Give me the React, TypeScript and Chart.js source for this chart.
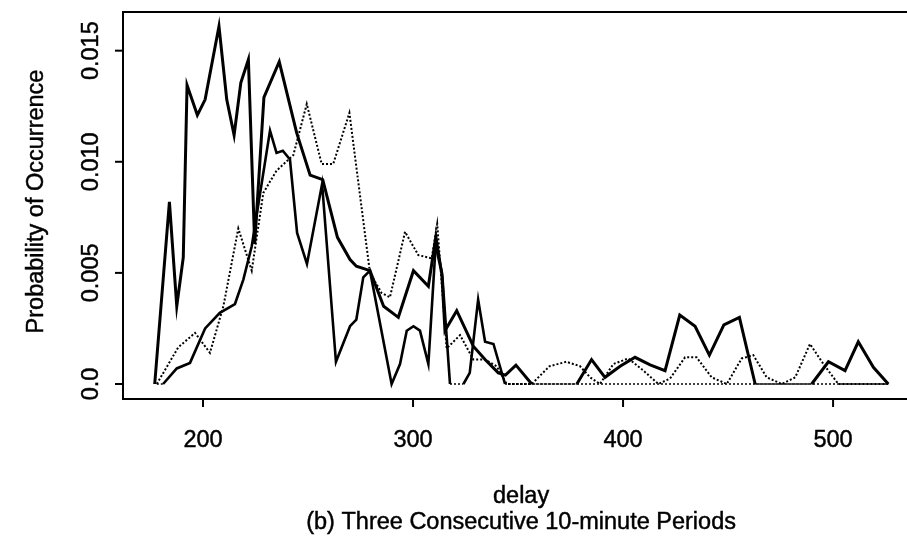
import React, { useEffect, useRef } from "react";
import { Chart, registerables } from "chart.js";

Chart.register(...registerables);

// ---- data (delay, probability of occurrence) ----
const PERIOD1_DELAY = [177, 184, 187.5, 190.6, 192.4, 197.3, 201, 207.6, 211.3, 214.8, 218, 221.6, 224.6, 229, 236.3, 244.6, 251, 257, 264, 270, 273, 279.5, 286, 293, 300.2, 307.3, 310.5, 313.7, 315.2, 320.8, 328.7, 334.3, 340.6, 344, 349, 356.5, 378, 385, 391.4, 398.6, 405.7, 412.9, 420, 427, 434.3, 441.1, 448, 455.4, 462.9, 489.8, 497.8, 505.7, 512, 519.2, 526.3];
const PERIOD1_PROB = [0, 0.0082, 0.0035, 0.0057, 0.01345, 0.0121, 0.0128, 0.0161, 0.0128, 0.0112, 0.01355, 0.0146, 0.0063, 0.0129, 0.0145, 0.0113, 0.0094, 0.0092, 0.0066, 0.0056, 0.0053, 0.0051, 0.0035, 0.003, 0.0051, 0.0044, 0.0064, 0.005, 0.0024, 0.0033, 0.0017, 0.0011, 0.0005, 0.0004, 0.00085, 0, 0, 0.0011, 0.0003, 0.0008, 0.0012, 0.00086, 0.0006, 0.0031, 0.0026, 0.0013, 0.00266, 0.003, 0, 0, 0.001, 0.0006, 0.0019, 0.00075, 0];

const PERIOD2_DELAY = [178, 181, 187.5, 193.8, 201, 208, 215.2, 219.2, 223.2, 231.9, 235, 238, 241.4, 244.8, 249.5, 256.7, 263.3, 270, 273, 276.3, 279.5, 289.8, 293.8, 297, 300.2, 303.3, 307.3, 311, 314, 317.6, 324, 327, 331, 334.3, 338.3, 343.8, 526.3];
const PERIOD2_PROB = [0, 0, 0.0007, 0.00095, 0.0025, 0.0032, 0.0036, 0.0047, 0.0062, 0.0114, 0.0104, 0.0105, 0.0101, 0.0068, 0.0054, 0.009, 0.001, 0.0026, 0.0029, 0.0048, 0.0051, 0, 0.0009, 0.0024, 0.0026, 0.0024, 0.0009, 0.0066, 0.0048, 0, 0, 0.0005, 0.0038, 0.0019, 0.0018, 0, 0];

const PERIOD3_DELAY = [178, 188.2, 196.2, 203.3, 209.7, 216.8, 223.2, 228.7, 235, 243, 249.4, 256.5, 262, 269.7, 279.5, 285, 289, 296.2, 302.5, 308.9, 311.5, 316, 322.4, 328.7, 334.3, 339.8, 344.6, 356.5, 365, 373, 379.5, 384.3, 389, 395.4, 402.5, 409.7, 416.8, 422.4, 429.5, 435, 442.2, 449.4, 456.5, 462, 468.4, 475.6, 482, 489, 495.4, 502.5, 526.3];
const PERIOD3_PROB = [0, 0.00165, 0.0023, 0.0014, 0.0035, 0.007, 0.0051, 0.0086, 0.0096, 0.0103, 0.0126, 0.0099, 0.0099, 0.0122, 0.005, 0.0041, 0.0039, 0.00685, 0.0058, 0.00565, 0.0072, 0.0016, 0.0022, 0.0011, 0.0011, 0.0008, 0, 0, 0.0008, 0.001, 0.0008, 0.0003, 0, 0.0009, 0.00115, 0.0006, 0, 0.00025, 0.0012, 0.0012, 0.0003, 0, 0.00115, 0.0013, 0.0003, 0, 0.0003, 0.0018, 0.0009, 0, 0];

const X_TICKS = [200, 300, 400, 500];
const X_TICK_LABELS = ["200", "300", "400", "500"];
const Y_TICKS = [0, 0.005, 0.01, 0.015];
const Y_TICK_LABELS = ["0.0", "0.005", "0.010", "0.015"];
const X_MIN = 161.9;
const X_MAX = 535.2;
const X_BOX_MAX = 541;
const Y_MIN = -0.000675;
const Y_MAX = 0.01674;

const X_TITLE = "delay";
const SUBTITLE = "(b) Three Consecutive 10-minute Periods";
const Y_TITLE = "Probability of Occurrence";

const FONT = '"Liberation Sans", Arial, Helvetica, sans-serif';

const toPoints = (xs: number[], ys: number[]) => xs.map((x, i) => ({ x, y: ys[i] }));

const onZero = (c: any) => c.p0.parsed.y === 0 && c.p1.parsed.y === 0;
const solidSegment = {
  borderWidth: (c: any) => (onZero(c) ? 1.5 : undefined),
  borderDash: (c: any) => (onZero(c) ? [2, 2] : undefined),
};

const drawText = (ctx: CanvasRenderingContext2D, s: string, x: number, y: number) => {
  ctx.fillText(s, x, y);
  ctx.strokeText(s, x, y);
};

const rAxesPlugin = {
  id: "rAxes",
  afterDraw(chart: any) {
    const { ctx, chartArea: ca, scales } = chart;
    const xs = scales.x;
    const ys = scales.y;
    const boxRight = xs.getPixelForValue(X_BOX_MAX);
    ctx.save();
    ctx.strokeStyle = "#000";
    ctx.fillStyle = "#000";
    ctx.lineWidth = 2;
    ctx.beginPath();
    ctx.moveTo(boxRight, ca.top);
    ctx.lineTo(ca.left, ca.top);
    ctx.lineTo(ca.left, ca.bottom);
    ctx.lineTo(boxRight, ca.bottom);
    ctx.lineTo(boxRight, ca.top);
    ctx.stroke();

    X_TICKS.forEach((v) => {
      const px = xs.getPixelForValue(v);
      ctx.beginPath();
      ctx.moveTo(px, ca.bottom);
      ctx.lineTo(px, ca.bottom + 8);
      ctx.stroke();
    });
    Y_TICKS.forEach((v) => {
      const py = ys.getPixelForValue(v);
      ctx.beginPath();
      ctx.moveTo(ca.left - 8, py);
      ctx.lineTo(ca.left, py);
      ctx.stroke();
    });

    ctx.font = `23.5px ${FONT}`;
    ctx.textAlign = "center";
    ctx.textBaseline = "middle";
    ctx.lineWidth = 0.45;
    X_TICKS.forEach((v, i) => {
      drawText(ctx, X_TICK_LABELS[i], xs.getPixelForValue(v), 441);
    });
    Y_TICKS.forEach((v, i) => {
      const py = ys.getPixelForValue(v);
      ctx.save();
      ctx.translate(92, py);
      ctx.rotate(-Math.PI / 2);
      drawText(ctx, Y_TICK_LABELS[i], 0, 0);
      ctx.restore();
    });
    const midX = (ca.left + boxRight) / 2;
    drawText(ctx, X_TITLE, midX, 497);
    drawText(ctx, SUBTITLE, midX, 523);
    ctx.save();
    ctx.translate(37, (ca.top + ca.bottom) / 2 - 4);
    ctx.rotate(-Math.PI / 2);
    drawText(ctx, Y_TITLE, 0, 0);
    ctx.restore();
    ctx.restore();
  },
};

export default function App() {
  const ref = useRef<HTMLCanvasElement | null>(null);
  useEffect(() => {
    if (!ref.current) return;
    const chart = new Chart(ref.current, {
      type: "line",
      data: {
        datasets: [
          {
            label: "Period 1",
            data: toPoints(PERIOD1_DELAY, PERIOD1_PROB),
            borderColor: "#000",
            borderWidth: 3,
            pointRadius: 0,
            tension: 0,
            fill: false,
            segment: solidSegment,
          },
          {
            label: "Period 2",
            data: toPoints(PERIOD2_DELAY, PERIOD2_PROB),
            borderColor: "#000",
            borderWidth: 2.6,
            pointRadius: 0,
            tension: 0,
            fill: false,
            segment: solidSegment,
          },
          {
            label: "Period 3",
            data: toPoints(PERIOD3_DELAY, PERIOD3_PROB),
            borderColor: "#000",
            borderWidth: 2,
            borderDash: [2, 2],
            pointRadius: 0,
            tension: 0,
            fill: false,
          },
        ],
      },
      options: {
        animation: false,
        responsive: false,
        layout: { padding: { left: 123, top: 12, right: 0, bottom: 146 } },
        plugins: { legend: { display: false }, tooltip: { enabled: false } },
        scales: {
          x: { type: "linear", min: X_MIN, max: X_MAX, display: false },
          y: { type: "linear", min: Y_MIN, max: Y_MAX, display: false },
        },
      },
      plugins: [rAxesPlugin],
    });
    return () => chart.destroy();
  }, []);
  return (
    <div style={{ position: "absolute", left: 0, top: 0, width: 907, height: 545, background: "#fff" }}>
      <canvas ref={ref} width={907} height={545} style={{ display: "block" }} />
    </div>
  );
}
